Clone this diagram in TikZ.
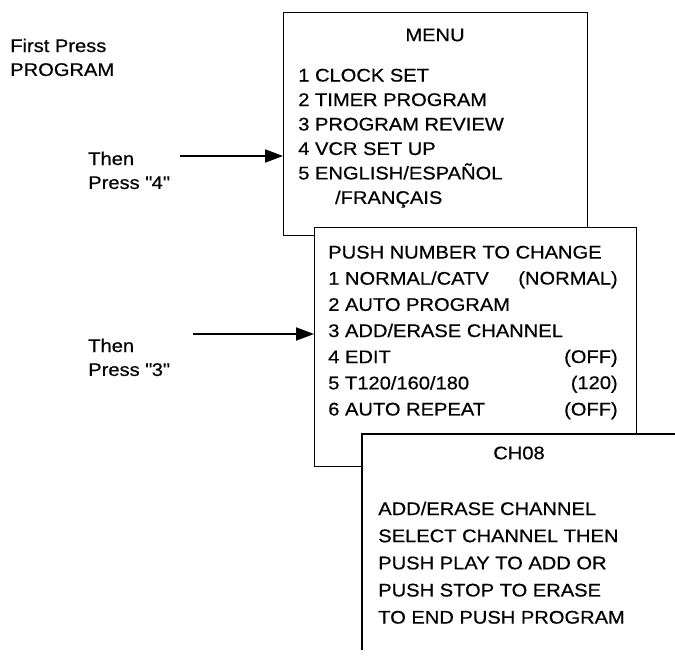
\documentclass[tikz,border=0pt]{standalone}
\usepackage{fontspec}
\setmainfont{Liberation Sans}[FakeStretch=1.1, FakeBold=0.5]
\usetikzlibrary{arrows.meta,positioning}

\begin{document}
\begin{tikzpicture}[x=0.025cm, y=-0.025cm,
  every node/.style={font=\fontsize{13}{17}\selectfont, inner sep=0pt},
  scr/.style={draw, fill=white, line width=0.8pt, anchor=north west},
  txt/.style={align=left, anchor=north west},
  ptr/.style={line width=0.9pt, -{Triangle[length=4.5mm,width=3.3mm]}}]
  \useasboundingbox (0,0) rectangle (675,663);

  % screens, back to front
  \node[scr, minimum width=7.6cm, minimum height=5.575cm] (menu) at (283,12) {};
  \node[scr, minimum width=8.05cm, minimum height=5.975cm] (setup) at (314,227) {};
  \fill[white] (362,434) rectangle (675,663);
  \draw[line width=0.8pt] (675,434) -| (362,650);

  % key presses
  \node[txt] (first) at (10,38.5) {First Press\\PROGRAM};
  \node[txt] (then4) at (88,151.5) {Then\\Press \textquotedbl 4\textquotedbl};
  \node[txt] (then3) at (88,338.5) {Then\\Press \textquotedbl 3\textquotedbl};

  % menu screen
  \node (menutitle) at (435,35) {MENU};
  \node[txt, font=\fontsize{13}{17.4}\selectfont] (menulist) at (298,68.5)
    {1 CLOCK SET\\2 TIMER PROGRAM\\3 PROGRAM REVIEW\\4 VCR SET UP\\5 ENGLISH/ESPAÑOL\\\hspace{0.92cm}/FRANÇAIS};

  % vcr set up screen
  \node[txt, font=\fontsize{13}{18.6}\selectfont] (setuplist) at (328,245.5)
    {PUSH NUMBER TO CHANGE\\1 NORMAL/CATV\\2 AUTO PROGRAM\\3 ADD/ERASE CHANNEL\\4 EDIT\\5 T120/160/180\\6 AUTO REPEAT};
  \node[anchor=base east] (normal) at (618,284.5) {(NORMAL)};
  \node[anchor=base east] (edit) at (618,363) {(OFF)};
  \node[anchor=base east] (tape) at (618,389) {(120)};
  \node[anchor=base east] (repeat) at (618,415.5) {(OFF)};

  % channel screen
  \node (chno) at (519,453) {CH08};
  \node[txt, font=\fontsize{13}{19.3}\selectfont] (chlist) at (378,501.5)
    {ADD/ERASE CHANNEL\\SELECT CHANNEL THEN\\PUSH PLAY TO ADD OR\\PUSH STOP TO ERASE\\TO END PUSH PROGRAM};

  % arrows
  \coordinate (a4) at (180,156);
  \draw[ptr] (a4) -- (a4 -| menu.west);
  \coordinate (a3) at (193,334);
  \draw[ptr] (a3) -- (a3 -| setup.west);
\end{tikzpicture}
\end{document}
